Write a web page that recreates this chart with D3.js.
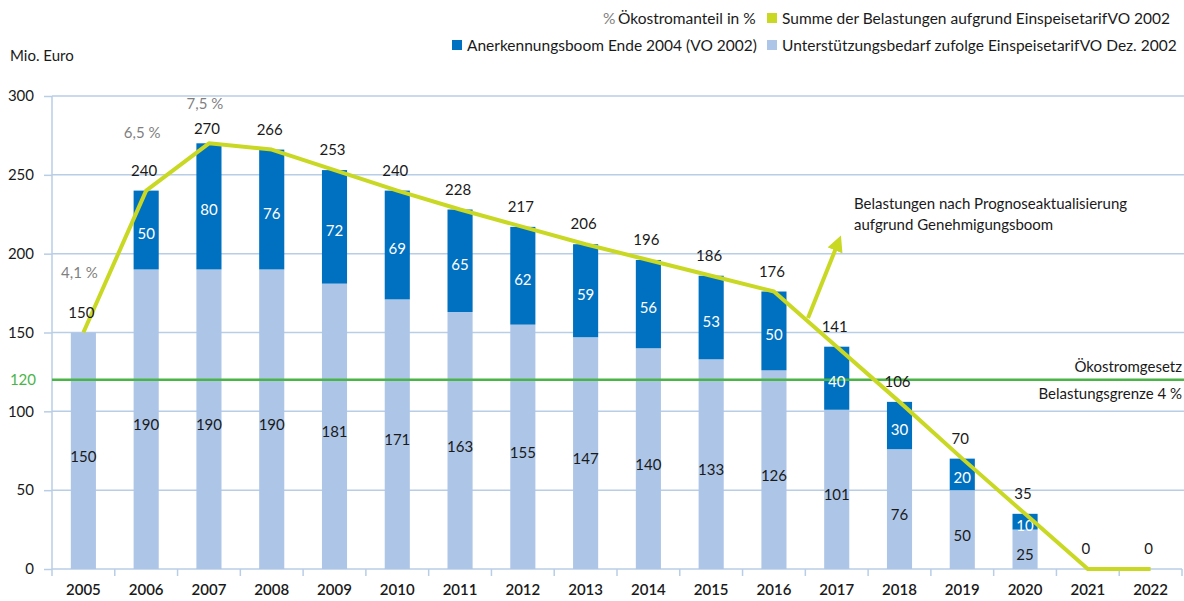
<!DOCTYPE html>
<html><head><meta charset="utf-8">
<script src="https://cdn.jsdelivr.net/npm/d3@7"></script>
<style>
body{margin:0;background:#fff;}
svg{display:block;font-family:"Lato","Open Sans",sans-serif;}
</style></head>
<body>
<script>
const years = ["2005","2006","2007","2008","2009","2010","2011","2012","2013","2014","2015","2016","2017","2018","2019","2020","2021","2022"];
const baseValues = [150,190,190,190,181,171,163,155,147,140,133,126,101,76,50,25,0,0];
const boomValues = [0,50,80,76,72,69,65,62,59,56,53,50,40,30,20,10,0,0];
const totalValues = [150,240,270,266,253,240,228,217,206,196,186,176,141,106,70,35,0,0];
const lineValues = [150,240,270,266,253,240,228,217,206,196,186,176,141,106,70,35,0,0];
const pctLabels = [["2005","4,1 %",4.1],["2006","6,5 %",6.5],["2007","7,5 %",7.5]];
const yTicks = [0,50,100,150,200,250,300];
const limitValue = 120;

const W=1184,H=601;
const FS=15;
const svg=d3.select("body").append("svg").attr("width",W).attr("height",H);
const x=d3.scaleBand().domain(years).range([52,1182]).paddingInner(0.6).paddingOuter(0.3);
const y=d3.scaleLinear().domain([0,300]).range([569,96]);
const C={dark:"#0070c0",light:"#adc6e8",line:"#c9d823",grid:"#b8cde6",green:"#4ab547",text:"#1a1a1a",gray:"#7f7f7f"};

// gridlines
svg.append("g").selectAll("line").data(yTicks.filter(d=>d>0)).join("line")
  .attr("x1",52).attr("x2",W).attr("y1",d=>y(d)).attr("y2",d=>y(d))
  .attr("stroke",C.grid).attr("stroke-width",1.5);

// y axis
const ya=svg.append("g").attr("transform","translate(52,0)")
  .call(d3.axisLeft(y).tickValues(yTicks).tickSize(8).tickPadding(10));
ya.select(".domain").attr("stroke",C.grid).attr("stroke-width",1.5).attr("d","M0,96V569");
ya.selectAll(".tick line").attr("stroke",C.grid).attr("stroke-width",1.5).attr("x2",-8).attr("x1",0);
ya.selectAll(".tick text").attr("font-size",FS).attr("fill",C.text).attr("font-family","Lato, sans-serif");

// x axis
const xa=svg.append("g").attr("transform","translate(0,569)")
  .call(d3.axisBottom(x).tickSize(0).tickPadding(15));
xa.select(".domain").attr("stroke",C.grid).attr("stroke-width",1.5).attr("d","M52,0H1182");
xa.selectAll(".tick text").attr("font-size",FS).attr("fill",C.text).attr("font-family","Lato, sans-serif").attr("font-weight","600");
const step=x.step();
svg.append("g").selectAll("line").data(d3.range(years.length+1)).join("line")
  .attr("x1",i=>52+i*step).attr("x2",i=>52+i*step).attr("y1",569).attr("y2",576)
  .attr("stroke",C.grid).attr("stroke-width",1.5);

// bars
const bw=x.bandwidth();
svg.append("g").selectAll("rect").data(years).join("rect")
  .attr("x",d=>x(d)).attr("width",bw)
  .attr("y",(d,i)=>y(baseValues[i])).attr("height",(d,i)=>y(0)-y(baseValues[i]))
  .attr("fill",C.light);
svg.append("g").selectAll("rect").data(years).join("rect")
  .attr("x",d=>x(d)).attr("width",bw)
  .attr("y",(d,i)=>y(baseValues[i]+boomValues[i])).attr("height",(d,i)=>y(baseValues[i])-y(baseValues[i]+boomValues[i]))
  .attr("fill",C.dark);

// green limit line
svg.append("line").attr("x1",52).attr("x2",W).attr("y1",y(limitValue)).attr("y2",y(limitValue))
  .attr("stroke",C.green).attr("stroke-width",2.5);
svg.append("text").attr("x",36).attr("y",y(limitValue)+5).attr("text-anchor","end")
  .attr("font-size",FS).attr("fill",C.green).text(limitValue);
svg.append("text").attr("x",1182).attr("y",y(limitValue)-8).attr("text-anchor","end")
  .attr("font-size",FS).attr("fill",C.text).text("Ökostromgesetz");
svg.append("text").attr("x",1182).attr("y",y(limitValue)+19).attr("text-anchor","end")
  .attr("font-size",FS).attr("fill",C.text).text("Belastungsgrenze 4 %");

// segment labels
const cx=d=>x(d)+bw/2;
svg.append("g").selectAll("text").data(years.filter((d,i)=>baseValues[i]>0)).join("text")
  .attr("x",d=>cx(d)).attr("y",d=>{const i=years.indexOf(d);return y(baseValues[i]/2)+11;})
  .attr("text-anchor","middle").attr("font-size",FS).attr("fill",C.text)
  .text(d=>baseValues[years.indexOf(d)]);
svg.append("g").selectAll("text").data(years.filter((d,i)=>boomValues[i]>0)).join("text")
  .attr("x",d=>cx(d)).attr("y",d=>{const i=years.indexOf(d);return y(baseValues[i]+boomValues[i]/2)+9;})
  .attr("text-anchor","middle").attr("font-size",FS).attr("fill","#fff")
  .text(d=>boomValues[years.indexOf(d)]);

// line
const line=d3.line().x((d,i)=>cx(years[i])).y(d=>y(d));
svg.append("path").datum(lineValues).attr("d",line).attr("fill","none")
  .attr("stroke",C.line).attr("stroke-width",4).attr("stroke-linejoin","round");

// totals
svg.append("g").selectAll("text").data(years).join("text")
  .attr("x",d=>cx(d)-2).attr("y",(d,i)=>y(totalValues[i])-(i===2?9:15))
  .attr("text-anchor","middle").attr("font-size",FS).attr("fill",C.text)
  .text((d,i)=>totalValues[i]);

// percent labels
svg.append("g").selectAll("text").data(pctLabels).join("text")
  .attr("x",d=>cx(d[0])-4).attr("y",(d,i)=>[278,138,109][i])
  .attr("text-anchor","middle").attr("font-size",FS).attr("fill",C.gray)
  .text(d=>d[1]);

// arrow annotation
const defs=svg.append("defs");
defs.append("marker").attr("id","ah").attr("viewBox","0 0 10 10").attr("refX",5).attr("refY",5)
  .attr("markerWidth",4).attr("markerHeight",4).attr("orient","auto")
  .append("path").attr("d","M0,0L10,5L0,10z").attr("fill",C.line);
svg.append("line").attr("x1",808).attr("y1",318).attr("x2",838).attr("y2",243)
  .attr("stroke",C.line).attr("stroke-width",4).attr("marker-end","url(#ah)");
svg.append("text").attr("x",854).attr("y",209).attr("font-size",FS).attr("fill",C.text)
  .text("Belastungen nach Prognoseaktualisierung");
svg.append("text").attr("x",854).attr("y",230).attr("font-size",FS).attr("fill",C.text)
  .text("aufgrund Genehmigungsboom");

// y axis title
svg.append("text").attr("x",10).attr("y",61).attr("font-size",FS).attr("fill",C.text).text("Mio. Euro");

// legend
const lg=svg.append("g").attr("font-size",15.5).attr("fill",C.text);
lg.append("text").attr("x",603).attr("y",24).attr("fill",C.gray).text("%");
lg.append("text").attr("x",618).attr("y",24).text("Ökostromanteil in %");
lg.append("rect").attr("x",767).attr("y",13).attr("width",10).attr("height",10).attr("fill",C.line);
lg.append("text").attr("x",782).attr("y",24).text("Summe der Belastungen aufgrund EinspeisetarifVO 2002");
lg.append("rect").attr("x",452).attr("y",40).attr("width",10).attr("height",10).attr("fill",C.dark);
lg.append("text").attr("x",467).attr("y",51).text("Anerkennungsboom Ende 2004 (VO 2002)");
lg.append("rect").attr("x",767).attr("y",40).attr("width",10).attr("height",10).attr("fill",C.light);
lg.append("text").attr("x",782).attr("y",51).text("Unterstützungsbedarf zufolge EinspeisetarifVO Dez. 2002");
</script>
</body></html>
